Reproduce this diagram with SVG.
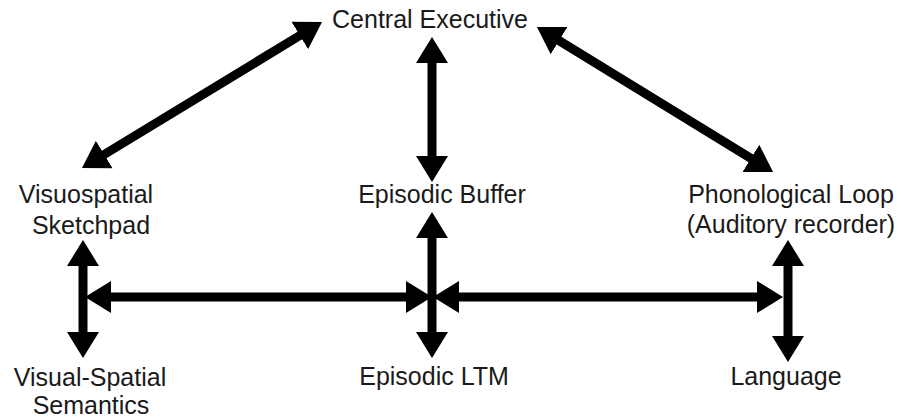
<svg xmlns="http://www.w3.org/2000/svg" width="901" height="418" viewBox="0 0 901 418">
<style>
text{font-family:"Liberation Sans",Arial,sans-serif;font-size:25px;fill:#1a1a1a;text-anchor:middle}
.c{stroke:#000;stroke-width:9;fill:none;marker-start:url(#h);marker-end:url(#h)}
</style>
<defs>
<marker id="h" markerUnits="userSpaceOnUse" markerWidth="30" markerHeight="36" viewBox="0 -18 30 36" refX="2" refY="0" orient="auto-start-reverse">
<path d="M0,-16 L26,0 L0,16 z" fill="#000"/>
</marker>
</defs>
<rect width="901" height="418" fill="#fff"/>
<g id="connectors">
<line class="c" x1="102.5" y1="155.5" x2="301.5" y2="34.5"/>
<line class="c" x1="557.4" y1="39.6" x2="752.6" y2="159.4"/>
<line class="c" x1="432" y1="61" x2="432" y2="158"/>
<line class="c" x1="432" y1="236" x2="432" y2="334"/>
<line class="c" x1="83" y1="264" x2="83" y2="334"/>
<line class="c" x1="788" y1="264" x2="788" y2="338"/>
<line class="c" x1="109" y1="297" x2="408" y2="297"/>
<line class="c" x1="457" y1="297" x2="759" y2="297"/>
</g>
<g id="central-executive"><text x="430" y="28">Central Executive</text></g>
<g id="visuospatial-sketchpad"><text x="86" y="203">Visuospatial</text><text x="91" y="234">Sketchpad</text></g>
<g id="episodic-buffer"><text x="442" y="203">Episodic Buffer</text></g>
<g id="phonological-loop"><text x="791" y="203">Phonological Loop</text><text x="791" y="233">(Auditory recorder)</text></g>
<g id="visual-spatial-semantics"><text x="90" y="386">Visual-Spatial</text><text x="91" y="414">Semantics</text></g>
<g id="episodic-ltm"><text x="434" y="385">Episodic LTM</text></g>
<g id="language"><text x="786" y="385">Language</text></g>
</svg>
